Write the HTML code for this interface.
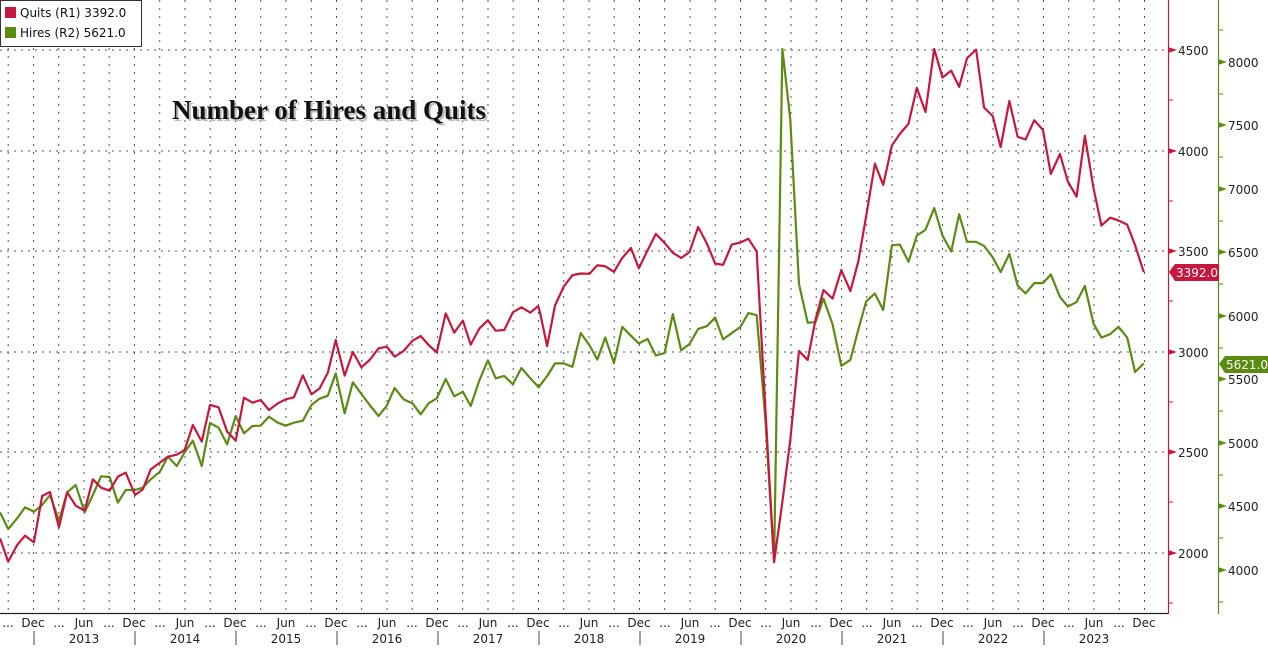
<!DOCTYPE html>
<html><head><meta charset="utf-8"><style>
html,body{margin:0;padding:0;background:#fff;width:1268px;height:649px;overflow:hidden}
svg text{font-family:"DejaVu Sans","Liberation Sans",sans-serif}
</style></head><body>
<svg width="1268" height="649" viewBox="0 0 1268 649" xmlns="http://www.w3.org/2000/svg">
<g stroke="#555" stroke-width="1" stroke-dasharray="2,5">
<line x1="0" y1="50" x2="1168" y2="50"/><line x1="0" y1="151" x2="1168" y2="151"/>
<line x1="0" y1="251" x2="1168" y2="251"/><line x1="0" y1="352" x2="1168" y2="352"/>
<line x1="0" y1="452" x2="1168" y2="452"/><line x1="0" y1="553" x2="1168" y2="553"/>
</g>
<g stroke="#555" stroke-width="1" stroke-dasharray="2,6">
<line x1="8.2" y1="0" x2="8.2" y2="613"/><line x1="33.5" y1="0" x2="33.5" y2="613"/><line x1="58.7" y1="0" x2="58.7" y2="613"/><line x1="84" y1="0" x2="84" y2="613"/><line x1="109.2" y1="0" x2="109.2" y2="613"/><line x1="134.5" y1="0" x2="134.5" y2="613"/><line x1="159.7" y1="0" x2="159.7" y2="613"/><line x1="185" y1="0" x2="185" y2="613"/><line x1="210.2" y1="0" x2="210.2" y2="613"/><line x1="235.5" y1="0" x2="235.5" y2="613"/><line x1="260.7" y1="0" x2="260.7" y2="613"/><line x1="286" y1="0" x2="286" y2="613"/><line x1="311.2" y1="0" x2="311.2" y2="613"/><line x1="336.5" y1="0" x2="336.5" y2="613"/><line x1="361.7" y1="0" x2="361.7" y2="613"/><line x1="387" y1="0" x2="387" y2="613"/><line x1="412.2" y1="0" x2="412.2" y2="613"/><line x1="437.5" y1="0" x2="437.5" y2="613"/><line x1="462.7" y1="0" x2="462.7" y2="613"/><line x1="488" y1="0" x2="488" y2="613"/><line x1="513.2" y1="0" x2="513.2" y2="613"/><line x1="538.5" y1="0" x2="538.5" y2="613"/><line x1="563.7" y1="0" x2="563.7" y2="613"/><line x1="589" y1="0" x2="589" y2="613"/><line x1="614.2" y1="0" x2="614.2" y2="613"/><line x1="639.5" y1="0" x2="639.5" y2="613"/><line x1="664.7" y1="0" x2="664.7" y2="613"/><line x1="690" y1="0" x2="690" y2="613"/><line x1="715.2" y1="0" x2="715.2" y2="613"/><line x1="740.5" y1="0" x2="740.5" y2="613"/><line x1="765.7" y1="0" x2="765.7" y2="613"/><line x1="791" y1="0" x2="791" y2="613"/><line x1="816.2" y1="0" x2="816.2" y2="613"/><line x1="841.5" y1="0" x2="841.5" y2="613"/><line x1="866.7" y1="0" x2="866.7" y2="613"/><line x1="892" y1="0" x2="892" y2="613"/><line x1="917.2" y1="0" x2="917.2" y2="613"/><line x1="942.5" y1="0" x2="942.5" y2="613"/><line x1="967.7" y1="0" x2="967.7" y2="613"/><line x1="993" y1="0" x2="993" y2="613"/><line x1="1018.2" y1="0" x2="1018.2" y2="613"/><line x1="1043.5" y1="0" x2="1043.5" y2="613"/><line x1="1068.7" y1="0" x2="1068.7" y2="613"/><line x1="1094" y1="0" x2="1094" y2="613"/><line x1="1119.2" y1="0" x2="1119.2" y2="613"/><line x1="1144.5" y1="0" x2="1144.5" y2="613"/>
</g>
<text x="174" y="121" font-weight="bold" font-size="27" fill="#bbb" style="font-family:'Liberation Serif',serif">Number of Hires and Quits</text>
<text x="172" y="119" font-weight="bold" font-size="27" fill="#111" style="font-family:'Liberation Serif',serif">Number of Hires and Quits</text>
<g transform="translate(0,250) scale(0.35714,0.33333)" fill="none" stroke-linejoin="round">
<polyline vector-effect="non-scaling-stroke" stroke="#5b8c12" stroke-width="2.2" points="0,787 23,837 48,805 70,772 95,785 118,765 140,735 165,812 188,727 212,705 237,787 260,735 283,679 307,681 330,758 352,720 378,720 400,713 422,688 448,665 470,620 495,648 517,607 540,572 565,648 588,519 612,533 636,583 660,498 683,550 707,528 730,527 753,500 778,518 800,527 823,518 848,512 872,465 895,446 918,437 940,370 965,490 988,397 1012,432 1035,465 1060,498 1083,467 1105,414 1130,448 1155,460 1178,493 1200,460 1223,445 1248,387 1272,439 1296,425 1318,468 1342,392 1366,331 1388,385 1412,378 1436,403 1460,354 1485,385 1507,410 1512,405"/>
<polyline vector-effect="non-scaling-stroke" stroke="#c8173c" stroke-width="2.2" points="0,865 23,935 48,885 70,857 95,877 118,738 140,726 165,832 188,727 212,767 237,782 260,688 283,713 307,722 330,680 352,668 378,735 400,718 422,658 448,638 470,620 495,614 517,600 540,525 565,575 588,465 612,472 636,545 660,572 683,443 707,458 730,450 753,480 778,460 800,448 823,442 848,376 872,433 895,415 918,368 940,270 965,377 988,306 1012,352 1035,330 1060,295 1083,290 1105,320 1130,303 1155,272 1178,258 1200,285 1223,307 1248,190 1272,248 1296,212 1318,284 1342,236 1366,211 1388,242 1412,240 1436,187 1460,172 1485,188 1507,168"/>
</g>
<g transform="translate(540,30) scale(0.3954,0.3444)" fill="none" stroke-linejoin="round">
<polyline vector-effect="non-scaling-stroke" stroke="#5b8c12" stroke-width="2.2" points="-5,1040 0,1032 18,1005 38,968 60,968 82,978 103,880 125,915 145,957 165,893 187,967 208,862 230,888 250,910 272,897 293,945 315,938 336,825 357,930 378,912 400,868 422,860 443,835 463,898 485,880 507,862 527,822 548,828 570,1130 592,1545 613,55 633,260 655,737 677,850 697,848 717,780 740,855 762,975 785,958 805,870 825,788 847,765 868,813 890,625 910,623 932,673 953,597 975,580 997,517 1018,597 1040,643 1060,535 1080,615 1103,615 1123,627 1145,660 1165,703 1187,650 1208,742 1228,765 1250,735 1272,735 1292,710 1315,775 1335,803 1357,790 1378,743 1400,853 1420,893 1442,883 1463,862 1485,893 1505,993 1527,968"/>
<polyline vector-effect="non-scaling-stroke" stroke="#c8173c" stroke-width="2.2" points="-5,800 0,820 18,918 38,800 60,745 82,712 103,707 125,708 145,683 165,686 187,702 208,662 230,633 250,692 272,640 293,592 315,618 336,647 357,662 378,645 400,572 422,620 443,678 463,682 485,623 507,617 527,606 548,643 570,1100 592,1545 613,1370 633,1190 655,932 677,958 697,840 717,755 740,780 762,697 785,758 805,672 825,540 847,388 868,450 890,335 910,302 932,272 953,168 975,238 997,55 1018,138 1040,118 1060,165 1080,82 1103,57 1123,225 1145,250 1165,340 1187,206 1208,310 1228,318 1250,262 1272,290 1292,418 1315,360 1335,440 1357,484 1378,307 1400,460 1420,568 1442,545 1463,553 1485,565 1505,625 1527,703"/>
</g>
<line x1="0" y1="613.5" x2="1168" y2="613.5" stroke="#222" stroke-width="1.2"/>
<line x1="1168.5" y1="0" x2="1168.5" y2="614" stroke="#c8173c" stroke-width="1.2"/>
<line x1="1218.5" y1="0" x2="1218.5" y2="614" stroke="#5b8c12" stroke-width="1.2"/>
<g fill="#c8173c">
<polygon points="1168,47 1177,50 1168,53"/><polygon points="1168,148 1177,151 1168,154"/><polygon points="1168,248 1177,251 1168,254"/><polygon points="1168,349 1177,352 1168,355"/><polygon points="1168,449 1177,452 1168,455"/><polygon points="1168,550 1177,553 1168,556"/>
</g>
<g stroke="#c8173c"><line x1="1168" y1="100" x2="1173" y2="100"/><line x1="1168" y1="201" x2="1173" y2="201"/><line x1="1168" y1="301" x2="1173" y2="301"/><line x1="1168" y1="402" x2="1173" y2="402"/><line x1="1168" y1="502" x2="1173" y2="502"/><line x1="1168" y1="603" x2="1173" y2="603"/></g>
<g fill="#5b8c12">
<polygon points="1218,59 1227,62 1218,65"/><polygon points="1218,122 1227,125 1218,128"/><polygon points="1218,186 1227,189 1218,192"/><polygon points="1218,249 1227,252 1218,255"/><polygon points="1218,313 1227,316 1218,319"/><polygon points="1218,376 1227,379 1218,382"/><polygon points="1218,440 1227,443 1218,446"/><polygon points="1218,503 1227,506 1218,509"/><polygon points="1218,567 1227,570 1218,573"/>
</g>
<g stroke="#5b8c12"><line x1="1218" y1="30" x2="1223" y2="30"/><line x1="1218" y1="94" x2="1223" y2="94"/><line x1="1218" y1="157" x2="1223" y2="157"/><line x1="1218" y1="221" x2="1223" y2="221"/><line x1="1218" y1="284" x2="1223" y2="284"/><line x1="1218" y1="348" x2="1223" y2="348"/><line x1="1218" y1="411" x2="1223" y2="411"/><line x1="1218" y1="475" x2="1223" y2="475"/><line x1="1218" y1="538" x2="1223" y2="538"/><line x1="1218" y1="602" x2="1223" y2="602"/></g>
<g font-size="12" fill="#222">
<text x="1178" y="55">4500</text><text x="1178" y="156">4000</text><text x="1178" y="256">3500</text><text x="1178" y="357">3000</text><text x="1178" y="457">2500</text><text x="1178" y="558">2000</text>
<text x="1228" y="67">8000</text><text x="1228" y="130">7500</text><text x="1228" y="194">7000</text><text x="1228" y="257">6500</text><text x="1228" y="321">6000</text><text x="1228" y="384">5500</text><text x="1228" y="448">5000</text><text x="1228" y="511">4500</text><text x="1228" y="575">4000</text>
</g>
<polygon points="1169,272 1175,264 1219,264 1219,281 1175,281" fill="#c8173c"/>
<text x="1176" y="277" font-size="12" fill="#fff">3392.0</text>
<polygon points="1219,364 1225,356 1268,356 1268,373 1225,373" fill="#5b8c12"/>
<text x="1226" y="369" font-size="12" fill="#fff">5621.0</text>
<g font-size="12" fill="#222" text-anchor="middle">
<text x="8" y="627">...</text><text x="33" y="627">Dec</text><text x="59" y="627">...</text><text x="84" y="627">Jun</text>
<text x="109" y="627">...</text><text x="134" y="627">Dec</text><text x="160" y="627">...</text><text x="185" y="627">Jun</text>
<text x="210" y="627">...</text><text x="235" y="627">Dec</text><text x="261" y="627">...</text><text x="286" y="627">Jun</text>
<text x="311" y="627">...</text><text x="336" y="627">Dec</text><text x="362" y="627">...</text><text x="387" y="627">Jun</text>
<text x="412" y="627">...</text><text x="437" y="627">Dec</text><text x="463" y="627">...</text><text x="488" y="627">Jun</text>
<text x="513" y="627">...</text><text x="538" y="627">Dec</text><text x="564" y="627">...</text><text x="589" y="627">Jun</text>
<text x="614" y="627">...</text><text x="639" y="627">Dec</text><text x="665" y="627">...</text><text x="690" y="627">Jun</text>
<text x="715" y="627">...</text><text x="740" y="627">Dec</text><text x="766" y="627">...</text><text x="791" y="627">Jun</text>
<text x="816" y="627">...</text><text x="841" y="627">Dec</text><text x="867" y="627">...</text><text x="892" y="627">Jun</text>
<text x="917" y="627">...</text><text x="942" y="627">Dec</text><text x="968" y="627">...</text><text x="993" y="627">Jun</text>
<text x="1018" y="627">...</text><text x="1043" y="627">Dec</text><text x="1069" y="627">...</text><text x="1094" y="627">Jun</text>
<text x="1119" y="627">...</text><text x="1144" y="627">Dec</text>
<text x="84" y="643">2013</text><text x="185" y="643">2014</text><text x="286" y="643">2015</text><text x="387" y="643">2016</text><text x="488" y="643">2017</text><text x="589" y="643">2018</text><text x="690" y="643">2019</text><text x="791" y="643">2020</text><text x="892" y="643">2021</text><text x="993" y="643">2022</text><text x="1094" y="643">2023</text>
</g>
<g stroke="#444"><line x1="34" y1="631" x2="34" y2="645"/><line x1="135" y1="631" x2="135" y2="645"/><line x1="236" y1="631" x2="236" y2="645"/><line x1="337" y1="631" x2="337" y2="645"/><line x1="438" y1="631" x2="438" y2="645"/><line x1="539" y1="631" x2="539" y2="645"/><line x1="640" y1="631" x2="640" y2="645"/><line x1="741" y1="631" x2="741" y2="645"/><line x1="842" y1="631" x2="842" y2="645"/><line x1="943" y1="631" x2="943" y2="645"/><line x1="1044" y1="631" x2="1044" y2="645"/></g>
<rect x="0.5" y="0.5" width="141" height="46" fill="#fff" stroke="#333"/>
<rect x="5" y="7" width="11" height="11" fill="#c8173c"/>
<rect x="5" y="27" width="11" height="11" fill="#5b8c12"/>
<text x="20" y="17" font-size="12" fill="#111">Quits (R1) 3392.0</text>
<text x="20" y="37" font-size="12" fill="#111">Hires (R2) 5621.0</text>
</svg>
</body></html>
